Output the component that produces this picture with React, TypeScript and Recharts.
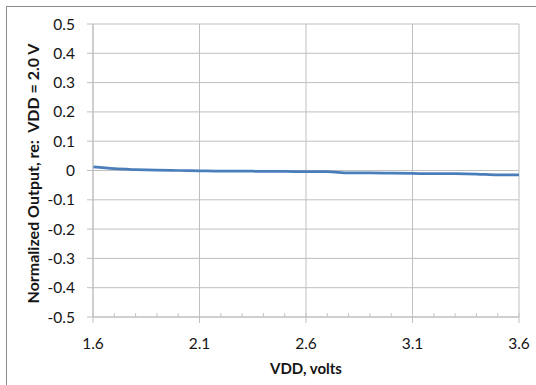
import React from 'react';
import { LineChart, Line, XAxis, YAxis, CartesianGrid, Label } from 'recharts';

const vddVolts = [1.6, 1.7, 1.8, 1.9, 2.0, 2.1, 2.2, 2.3, 2.4, 2.5, 2.6, 2.7, 2.8, 2.9, 3.0, 3.1, 3.2, 3.3, 3.4, 3.5, 3.6];
const normalizedOutput = [0.012, 0.006, 0.003, 0.001, 0.0, -0.001, -0.002, -0.002, -0.003, -0.003, -0.004, -0.004, -0.008, -0.008, -0.009, -0.01, -0.011, -0.011, -0.012, -0.015, -0.015];

const xTicks = [1.6, 2.1, 2.6, 3.1, 3.6];
const yTicks = [-0.5, -0.4, -0.3, -0.2, -0.1, 0, 0.1, 0.2, 0.3, 0.4, 0.5];
const xMinorPerMajor = 5;
const yMinorPerMajor = 5;

const xLabel = 'VDD, volts';
const yLabel = 'Normalized Output, re:\u00A0 VDD = 2.0 V';

const subdivide = (ticks: number[], n: number) => {
  const out: number[] = [];
  for (let i = 0; i < ticks.length - 1; i++) {
    for (let k = 0; k < n; k++) {
      out.push(Number((ticks[i] + ((ticks[i + 1] - ticks[i]) * k) / n).toFixed(4)));
    }
  }
  out.push(ticks[ticks.length - 1]);
  return out;
};

const xMinorTicks = subdivide(xTicks, xMinorPerMajor);
const yMinorTicks = subdivide(yTicks, yMinorPerMajor);

const data = vddVolts.map((v, i) => ({ vdd: v, out: normalizedOutput[i] }));

const FONT = 'Lato, "DejaVu Sans", sans-serif';
const GRID = '#bfbfbf';
const MINOR = '#c4c4c4';
const TEXT = '#151515';

const fmtY = (v: number) => (Math.abs(v) < 1e-9 ? '0' : v.toFixed(1));
const fmtX = (v: number) => v.toFixed(1);
const EmptyTick = () => <g />;

export default function App() {
  return (
    <div style={{ position: 'fixed', left: 0, top: 0, width: 536, height: 385, overflow: 'hidden', background: '#fff' }}>
      <div
        style={{
          position: 'absolute',
          left: 6,
          top: 6,
          width: 700,
          height: 700,
          border: '1.5px solid #8a8a8a',
          boxSizing: 'border-box',
        }}
      />
      <div style={{ position: 'absolute', left: 0, top: 0 }}>
        <LineChart width={536} height={385} data={data} margin={{ top: 24, right: 17, bottom: 0, left: 0 }}>
          <CartesianGrid stroke={GRID} strokeWidth={1} horizontalValues={yTicks} verticalValues={xTicks} />
          <XAxis
            xAxisId="minor"
            dataKey="vdd"
            type="number"
            domain={[1.6, 3.6]}
            ticks={xMinorTicks}
            interval={0}
            mirror
            height={1}
            tick={EmptyTick}
            axisLine={false}
            tickSize={4}
            tickLine={{ stroke: MINOR }}
          />
          <YAxis
            yAxisId="minor"
            type="number"
            domain={[-0.5, 0.5]}
            ticks={yMinorTicks}
            interval={0}
            mirror
            width={1}
            tick={EmptyTick}
            axisLine={false}
            tickSize={4}
            tickLine={{ stroke: MINOR }}
          />
          <XAxis
            dataKey="vdd"
            type="number"
            domain={[1.6, 3.6]}
            ticks={xTicks}
            interval={0}
            height={68}
            tickFormatter={fmtX}
            tickSize={6}
            tickMargin={15}
            stroke={GRID}
            tickLine={{ stroke: GRID }}
            tick={{ fill: TEXT, fontSize: 15.5, fontFamily: FONT }}
          >
            <Label
              value={xLabel}
              position="insideBottom"
              offset={11}
              style={{ fill: TEXT, fontSize: 15, fontWeight: 700, fontFamily: FONT }}
            />
          </XAxis>
          <YAxis
            type="number"
            domain={[-0.5, 0.5]}
            ticks={yTicks}
            interval={0}
            width={93}
            tickFormatter={fmtY}
            tickSize={6}
            tickMargin={12}
            stroke={GRID}
            tickLine={{ stroke: GRID }}
            tick={{ fill: TEXT, fontSize: 15.5, fontFamily: FONT }}
          >
            <Label
              value={yLabel}
              angle={-90}
              position="center"
              dx={-13}
              dy={3}
              style={{ fill: TEXT, fontSize: 16, fontWeight: 700, fontFamily: FONT, textAnchor: 'middle' }}
            />
          </YAxis>
          <Line
            type="monotone"
            dataKey="out"
            stroke="#4a7ebb"
            strokeWidth={2.75}
            dot={false}
            isAnimationActive={false}
          />
        </LineChart>
      </div>
    </div>
  );
}
